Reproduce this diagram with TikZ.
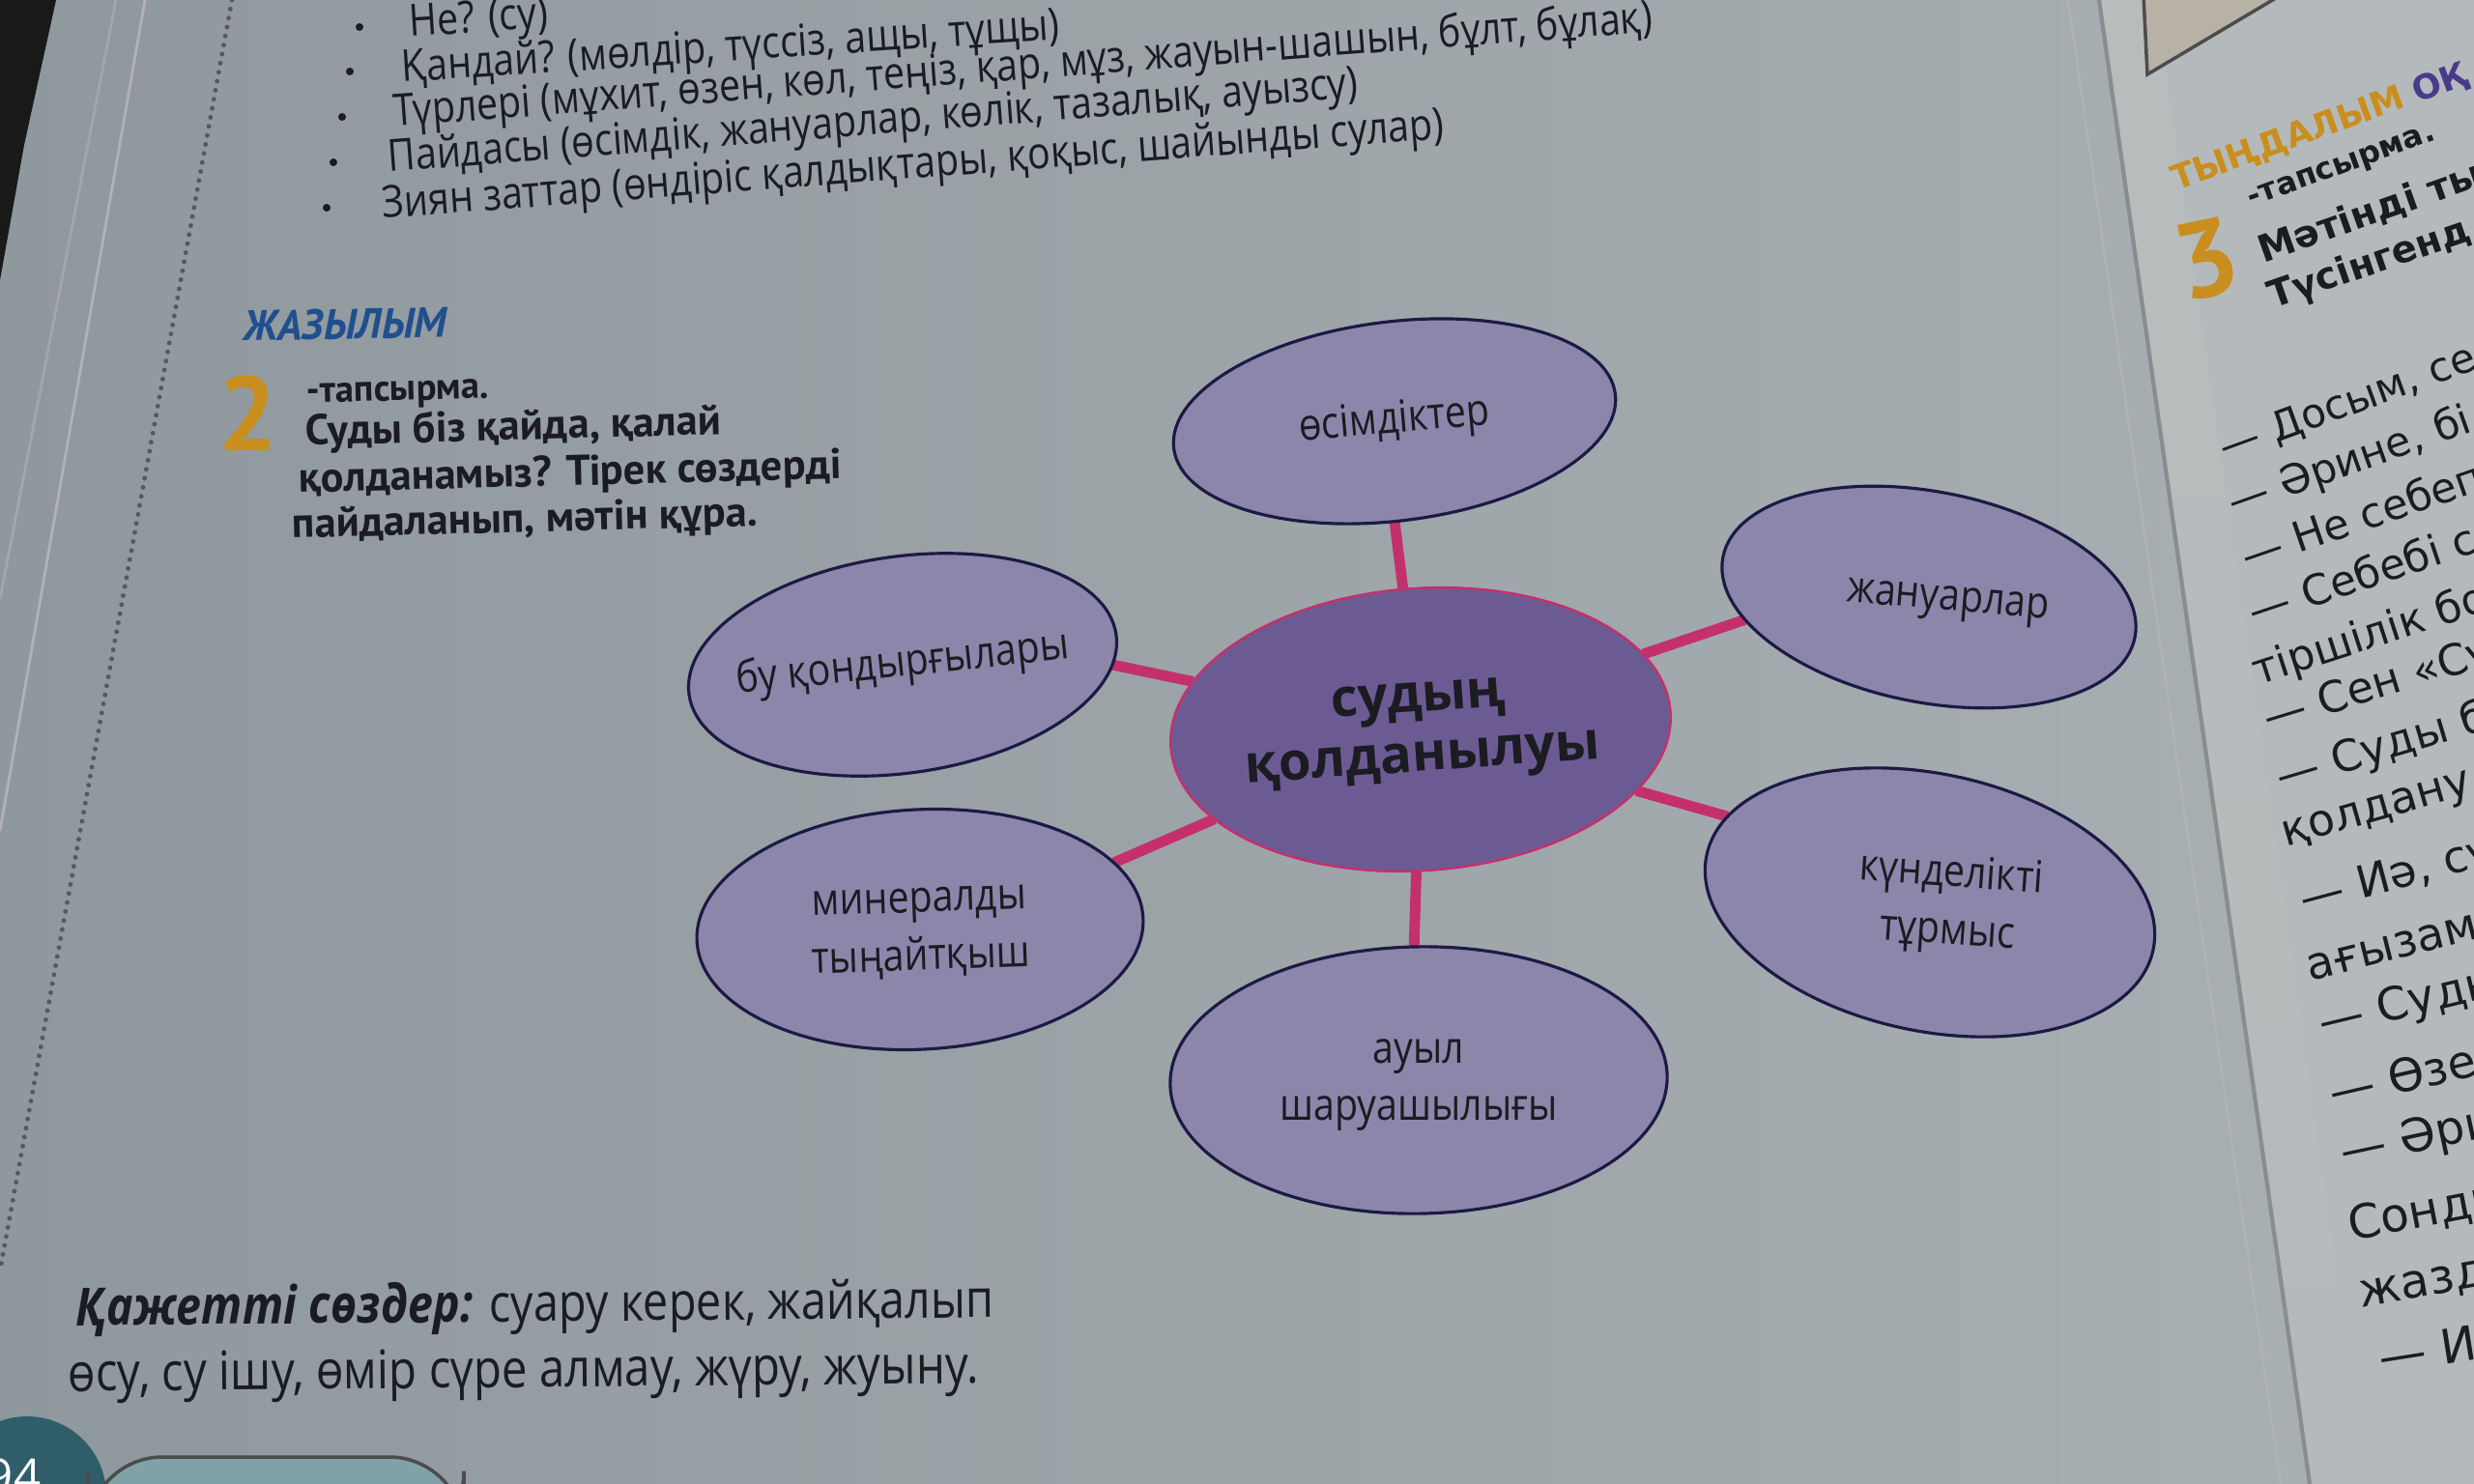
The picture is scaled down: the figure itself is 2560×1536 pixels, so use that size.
\documentclass[tikz,border=0pt]{standalone}
\usepackage{fontspec}
\usepackage{graphicx}
\setmainfont{Open Sans}
\newfontfamily\lbl[FakeStretch=0.86]{Open Sans}
\newfontfamily\ptsans{PT Sans}
\newfontfamily\rfont{DejaVu Sans}
\usetikzlibrary{shapes.geometric}
\pgfdeclarelayer{paper}
\pgfdeclarelayer{links}
\pgfsetlayers{paper,links,main}
\definecolor{pageL}{HTML}{8F989D}
\definecolor{pageM}{HTML}{A8AFB2}
\definecolor{pageR}{HTML}{B4BABC}
\definecolor{outerfill}{HTML}{8C87AA}
\definecolor{centerfill}{HTML}{6C5B93}
\definecolor{connc}{HTML}{C4306C}
\definecolor{navy}{HTML}{1C1A45}
\definecolor{inkc}{HTML}{1B1B22}
\definecolor{headblue}{HTML}{1F4F8F}
\definecolor{orangeN}{HTML}{C98E1E}
\definecolor{purpleH}{HTML}{4A3A8A}
\definecolor{tealD}{HTML}{2F5E6A}
\definecolor{tealL}{HTML}{7FA2A8}
\definecolor{framefill}{HTML}{B8B2A6}
\newcommand{\zl}[1]{\makebox[0pt][c]{\begin{tabular}{@{}c@{}}#1\end{tabular}}}
\tikzset{
  outerbox/.style={ellipse, draw=navy, line width=0.9pt, fill=outerfill, inner sep=0pt, outer sep=0pt, text=inkc, font=\lbl\fontsize{13}{17}\selectfont},
  centerbox/.style={ellipse, draw=connc, line width=0.7pt, fill=centerfill, inner sep=0pt, outer sep=0pt, text=inkc, font=\fontsize{15.5}{17.5}\selectfont\bfseries},
  linkline/.style={draw=connc, line width=3.1pt},
  bullettext/.style={anchor=base west, inner sep=0pt, text=inkc, font=\lbl\fontsize{13}{15}\selectfont},
  taskline/.style={anchor=base west, rotate=1.5, inner sep=0pt, text=inkc, font=\ptsans\bfseries\fontsize{12.6}{14}\selectfont},
  rtext/.style={anchor=west, inner sep=0pt, text=inkc},
  bdot/.style={fill=inkc}
}
\begin{document}
\begin{tikzpicture}[x=0.01cm, y=-0.01cm]
\useasboundingbox (0,0) rectangle (2560,1536);
% ---------- paper ----------
\begin{pgfonlayer}{paper}
  \shade[left color=pageL, right color=pageM] (0,0) -- (2172,0) -- (2390,1536) -- (0,1536) -- cycle;
  \fill[pageR] (2172,0) -- (2560,0) -- (2560,1536) -- (2390,1536) -- cycle;
  \shade[top color=black!25, bottom color=pageR, opacity=0.5] (2172,0) -- (2230,0) -- (2450,1536) -- (2390,1536) -- cycle;
  \draw[black!45, line width=1.2pt] (2172,0) -- (2390,1536);
  \draw[black!30, line width=0.8pt] (2140,0) -- (2360,1536);
  % top-right picture frame
  \filldraw[fill=framefill, draw=black!70, line width=1pt] (2218,-5) -- (2222,77) -- (2360,-5) -- cycle;
  % left edge
  \fill[black!90] (0,0) -- (58,0) -- (25,150) -- (0,290) -- cycle;
  \draw[black!35, line width=0.8pt] (120,0) -- (0,620);
  \draw[black!30, line width=0.8pt] (150,0) -- (0,860);
  \draw[black!65, line width=1.4pt, dash pattern=on 0pt off 2.7pt, line cap=round] (240,0) -- (0,1315);
  % page number and band
  \fill[tealD] (28,1548) circle (82);
  \filldraw[fill=tealL, draw=black!70, line width=1pt, rounded corners=22pt] (91,1508) rectangle (480,1600);
  \node[text=white!85, font=\fontsize{14}{14}\selectfont, inner sep=0pt] (pnum) at (14,1528) {94};
\end{pgfonlayer}

% ---------- top bullet list ----------
\fill[bdot] (372,28) circle (4);
\fill[bdot] (362,74) circle (4);
\fill[bdot] (354,121) circle (4);
\fill[bdot] (345,168) circle (4);
\fill[bdot] (338,215) circle (4);
\node[bullettext, rotate=3.7] (b1) at (424,38) {Не? (су)};
\node[bullettext, rotate=3.7] (b2) at (416,85) {Қандай? (мөлдір, түссіз, ащы, тұщы)};
\node[bullettext, rotate=4.3] (b3) at (408,131) {Түрлері (мұхит, өзен, көл, теңіз, қар, мұз, жауын-шашын, бұлт, бұлақ)};
\node[bullettext, rotate=4.4] (b4) at (402,178) {Пайдасы (өсімдік, жануарлар, көлік, тазалық, ауызсу)};
\node[bullettext, rotate=4.3] (b5) at (396,226) {Зиян заттар (өндіріс қалдықтары, қоқыс, шайынды сулар)};

% ---------- heading and task ----------
\node[anchor=base west, rotate=1, inner sep=0pt, text=headblue, font=\ptsans\bfseries\itshape\fontsize{12.5}{14}\selectfont] (head) at (252,353) {ЖАЗЫЛЫМ};
\node[inner sep=0pt, text=orangeN, font=\ptsans\bfseries\fontsize{31}{31}\selectfont] (num2) at (256,428) {2};
\node[taskline, font=\ptsans\bfseries\fontsize{11}{12}\selectfont] (t0) at (317,417) {-тапсырма.};
\node[taskline] (t1) at (316,461) {Суды біз қайда, қалай};
\node[taskline] (t2) at (309,510) {қолданамыз? Тірек сөздерді};
\node[taskline] (t3) at (302,557) {пайдаланып, мәтін құра.};

% ---------- diagram ----------
\node[centerbox, minimum width=5.18cm, minimum height=2.92cm, rotate=4] (c) at (1470,755) {\zl{судың\\қолданылуы}};
\node[outerbox, minimum width=4.6cm, minimum height=2.06cm, rotate=7] (os) at (1443,436) {\rotatebox[origin=c]{-2}{\zl{өсімдіктер}}};
\node[outerbox, minimum width=4.34cm, minimum height=2.18cm, rotate=-11] (jan) at (1996,618) {\rotatebox[origin=c]{6}{\zl{\hspace*{4mm}жануарлар}}};
\node[outerbox, minimum width=4.46cm, minimum height=2.24cm, rotate=8] (bu) at (934,688) {\rotatebox[origin=c]{-2}{\zl{бу қондырғылары}}};
\node[outerbox, minimum width=4.62cm, minimum height=2.48cm, rotate=3] (mn) at (952,962) {\rotatebox[origin=c]{-1}{\zl{минералды\\тыңайтқыш}}};
\node[outerbox, minimum width=4.72cm, minimum height=2.66cm, rotate=-12] (kun) at (1997,934) {\rotatebox[origin=c]{8}{\zl{\hspace*{4mm}күнделікті\\\hspace*{4mm}тұрмыс}}};
\node[outerbox, minimum width=5.14cm, minimum height=2.76cm, rotate=1] (au) at (1468,1118) {\rotatebox[origin=c]{-1}{\zl{ауыл\\шаруашылығы}}};

\begin{pgfonlayer}{links}
  \draw[linkline] (c) -- (os.-97);
  \draw[linkline] (c) -- (jan.198);
  \draw[linkline] (c) -- (bu.-8);
  \draw[linkline] (c) -- (mn.16);
  \draw[linkline] (c) -- (kun.169);
  \draw[linkline] (c) -- (au.91);
\end{pgfonlayer}

% ---------- needed words ----------
\node[anchor=base west, rotate=0.5, inner sep=0pt, text=inkc, font=\lbl\fontsize{15.5}{18}\selectfont] (w1) at (78,1372) {{\bfseries\itshape Қажетті сөздер:} суару керек, жайқалып};
\node[anchor=base west, rotate=0.5, inner sep=0pt, text=inkc, font=\lbl\fontsize{15.7}{18}\selectfont] (w2) at (70,1440) {өсу, су ішу, өмір сүре алмау, жүру, жуыну.};

% ---------- right page ----------
\node[rtext, rotate=20, font=\rfont\bfseries\fontsize{10}{11}\selectfont] (rh) at (2248,188) {\textcolor{orangeN}{ТЫҢДАЛЫМ} \textcolor{purpleH}{ОҚ}};
\node[inner sep=0pt, rotate=12, text=orangeN, font=\ptsans\bfseries\fontsize{32}{32}\selectfont] (r3) at (2284,268) {3};
\node[rtext, rotate=20, font=\rfont\bfseries\fontsize{9}{11}\selectfont] (rt0) at (2327,209) {-тапсырма.};
\node[rtext, rotate=19.5, font=\rfont\bfseries\fontsize{11}{13}\selectfont] (rt1) at (2338,261) {Мәтінді ты};
\node[rtext, rotate=19, font=\rfont\bfseries\fontsize{11}{13}\selectfont] (rt2) at (2348,310) {Түсінгенд};
\foreach \px/\py/\rr/\fs/\tx [count=\i] in {
  2298/466/20/12/{— Досым, се},
  2307/523/19.5/12.1/{— Әрине, бі},
  2319/576/19/12.3/{— Не себеп},
  2327/633/18.5/12.4/{— Себебі с},
  2332/698/18/12.5/{тіршілік бо},
  2343/747/17/12.7/{— Сен «Су},
  2356/807/16.5/12.8/{— Суды б},
  2363/869/16/13/{қолдану},
  2381/935/15/13.1/{— Иә, су},
  2387/1003/14/13.2/{ағызамы},
  2400/1062/13.5/13.4/{— Суды},
  2410/1131/13/13.5/{— Өзен},
  2422/1196/12/13.6/{— Әри},
  2430/1270/11/13.8/{Сонды},
  2441/1343/10/13.9/{жазда},
  2461/1405/9/14/{— Иә}} {
  \node[rtext, rotate=\rr, font=\rfont\fontsize{\fs}{\fs}\selectfont] (rl\i) at (\px,\py) {\tx};
}
\end{tikzpicture}
\end{document}
